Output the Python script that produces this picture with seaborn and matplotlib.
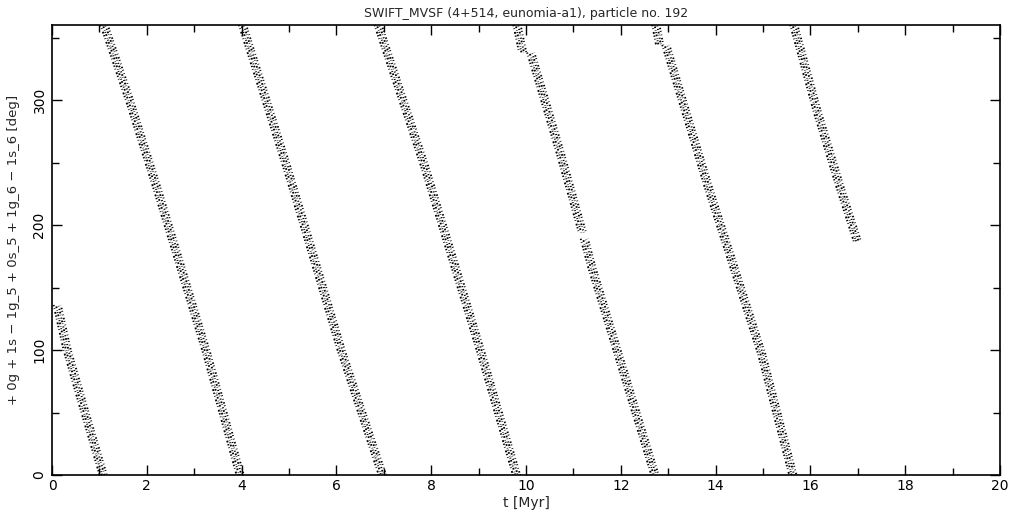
import matplotlib
matplotlib.use('agg')

import matplotlib.pyplot as plt
import matplotlib.patheffects as pe
from matplotlib.ticker import MultipleLocator
import seaborn as sns
import pandas as pd

# resonant angle bands: one segment per continuous stripe
seg_names = ['b0', 'b1', 'b2', 'b3', 'b4a', 'b4b', 'b4c', 'b5a', 'b5b', 'b6']
seg_t = [
    [0.11, 0.32, 0.62, 1.08],
    [1.10, 1.65, 2.21, 3.26, 3.97],
    [4.02, 4.95, 6.10, 6.97],
    [6.88, 7.87, 9.05, 9.80],
    [9.81, 9.93],
    [10.10, 10.72, 11.19],
    [11.23, 11.39, 12.72],
    [12.74, 12.82],
    [12.95, 13.84, 14.97, 15.63],
    [15.65, 16.15, 16.62, 16.99],
]
seg_phi = [
    [136, 100, 60, 0],
    [360, 298, 230, 98, 0],
    [360, 247, 100, 0],
    [360, 246, 98, 0],
    [360, 338],
    [338, 258, 194],
    [189, 166, 0],
    [360, 344],
    [344, 231, 97, 0],
    [360, 290, 231, 187],
]

x_ticks = [0, 2, 4, 6, 8, 10, 12, 14, 16, 18, 20]
y_ticks = [0, 100, 200, 300]

rows = []
for name, ts, ps in zip(seg_names, seg_t, seg_phi):
    for t, p in zip(ts, ps):
        rows.append({'seg': name, 't': t, 'phi': p})
df = pd.DataFrame(rows)

sns.set_style('ticks')
plt.rcParams['font.family'] = ['DejaVu Sans']

fig = plt.figure(figsize=(10.21, 5.11), dpi=100)
ax = fig.add_axes([52 / 1021, 1 - 475 / 511, 948 / 1021, 450 / 511])

# stippled band look: a few thin, sideways shifted strokes with uneven dash patterns
stipple = [
    (-2.6, (0.0, (0.7, 1.1, 0.4, 1.6, 1.0, 0.9))),
    (-0.9, (0.5, (0.5, 0.8, 0.9, 1.2, 0.3, 0.7))),
    (0.9, (1.1, (0.9, 0.7, 0.3, 1.3, 0.6, 1.0))),
    (2.6, (0.3, (0.4, 1.4, 0.8, 0.9, 0.5, 1.5))),
]
for dx, dash in stipple:
    sns.lineplot(data=df, x='t', y='phi', units='seg', estimator=None, sort=False,
                 color='black', linewidth=1.35, linestyle=dash,
                 dash_capstyle='butt', ax=ax, legend=False,
                 path_effects=[pe.Stroke(offset=(dx, 0))])

ax.set_xlim(0, 20)
ax.set_ylim(0, 360)
ax.set_xticks(x_ticks)
ax.set_yticks(y_ticks)
ax.xaxis.set_minor_locator(MultipleLocator(1))
ax.yaxis.set_minor_locator(MultipleLocator(50))
ax.tick_params(which='both', direction='in', top=True, right=True,
               colors='black', labelsize=10, width=1)
ax.tick_params(which='major', length=7, pad=4)
ax.tick_params(which='minor', length=5)
ax.tick_params(axis='x', which='major', pad=3)
plt.setp(ax.get_yticklabels(), rotation=90, va='center')
for s in ax.spines.values():
    s.set_linewidth(1.2)
    s.set_color('black')

ax.set_xlabel('t [Myr]', fontsize=10)
ax.xaxis.set_label_coords(0.5, -0.046)
ax.set_ylabel('+ 0g + 1s − 1g_5 + 0s_5 + 1g_6 − 1s_6 [deg]', fontsize=9.5)
ax.yaxis.set_label_coords(-0.0335, 0.5)
ax.set_title('SWIFT_MVSF (4+514, eunomia-a1), particle no. 192', fontsize=9, pad=6)

fig.savefig('out.png', dpi=100, facecolor='white')
